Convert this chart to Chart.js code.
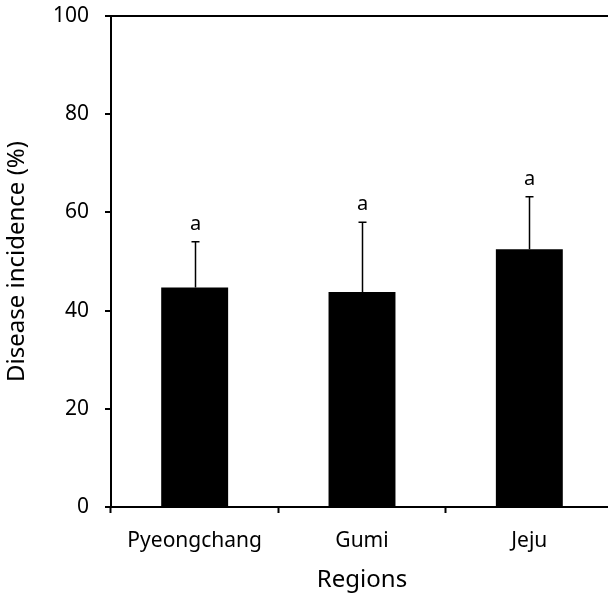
<!DOCTYPE html>
<html>
<head>
<meta charset="utf-8">
<script src="https://cdn.jsdelivr.net/npm/chart.js@4"></script>
<style>
  html, body { margin: 0; padding: 0; background: #fff; overflow: hidden; }
  #wrap { width: 620px; height: 596px; }
</style>
</head>
<body>
<div id="wrap"><canvas id="chart" width="620" height="596"></canvas></div>
<script>
// Disease incidence by region, mean with upper error bar and letter grouping
var regions = ['Pyeongchang', 'Gumi', 'Jeju'];
var incidence = [44.7, 43.8, 52.5];
var errorTop = [54.0, 58.0, 63.2];
var letters = ['a', 'a', 'a'];
var yTicks = [0, 20, 40, 60, 80, 100];

var FONT = "'Noto Sans', 'DejaVu Sans', sans-serif";

// draws error bars and significance letters above each bar
var errorBarPlugin = {
    id: 'errorBars',
    afterDatasetsDraw: function (chart) {
        var ctx = chart.ctx;
        var yScale = chart.scales.y;
        var meta = chart.getDatasetMeta(0);
        ctx.save();
        ctx.strokeStyle = '#000';
        ctx.fillStyle = '#000';
        ctx.lineWidth = 1.5;
        meta.data.forEach(function (bar, i) {
            var x = Math.round(bar.x) + 0.5;
            var yBar = yScale.getPixelForValue(incidence[i]);
            var yErr = yScale.getPixelForValue(errorTop[i]);
            ctx.beginPath();
            ctx.moveTo(x, yBar);
            ctx.lineTo(x, yErr);
            ctx.moveTo(x - 4, yErr);
            ctx.lineTo(x + 4, yErr);
            ctx.stroke();

            ctx.font = '20px ' + FONT;
            ctx.textAlign = 'center';
            ctx.textBaseline = 'alphabetic';
            ctx.fillText(letters[i], x, yErr - 12);
        });
        ctx.restore();
    }
};

var ctx = document.getElementById('chart').getContext('2d');
new Chart(ctx, {
    type: 'bar',
    data: {
        labels: regions,
        datasets: [{
            data: incidence,
            backgroundColor: '#000',
            borderWidth: 0,
            categoryPercentage: 0.8,
            barPercentage: 0.5
        }]
    },
    options: {
        responsive: false,
        animation: false,
        layout: { padding: { top: 16, right: 7, bottom: 0, left: 0 } },
        plugins: { legend: { display: false }, tooltip: { enabled: false } },
        scales: {
            x: {
                offset: true,
                grid: {
                    offset: true,
                    drawOnChartArea: false,
                    tickLength: 6,
                    tickWidth: 2,
                    tickColor: '#000'
                },
                border: { color: '#000', width: 2 },
                ticks: { color: '#000', font: { family: FONT, size: 21 }, padding: 15 },
                title: {
                    display: true,
                    text: 'Regions',
                    color: '#000',
                    font: { family: FONT, size: 24 },
                    padding: { top: 0, bottom: 1 }
                },
                afterFit: function (scale) { scale.height = 89; }
            },
            y: {
                min: 0,
                max: 100,
                afterBuildTicks: function (scale) {
                    scale.ticks = yTicks.map(function (v) { return { value: v }; });
                },
                grid: {
                    // only the 100 line is drawn across, forming the top frame
                    color: function (c) { return c.tick && c.tick.value === 100 ? '#000' : 'rgba(0,0,0,0)'; },
                    lineWidth: 2,
                    tickLength: 6,
                    tickWidth: 2,
                    tickColor: '#000'
                },
                border: { color: '#000', width: 2 },
                ticks: { color: '#000', font: { family: FONT, size: 21 }, padding: 16 },
                title: {
                    display: true,
                    text: 'Disease incidence (%)',
                    color: '#000',
                    font: { family: FONT, size: 24 },
                    padding: { top: 3, bottom: 0 }
                },
                afterFit: function (scale) {
                    scale.width = 111;
                    scale.paddingTop = 0;
                    scale.paddingBottom = 0;
                }
            }
        }
    },
    plugins: [errorBarPlugin]
});
</script>
</body>
</html>
